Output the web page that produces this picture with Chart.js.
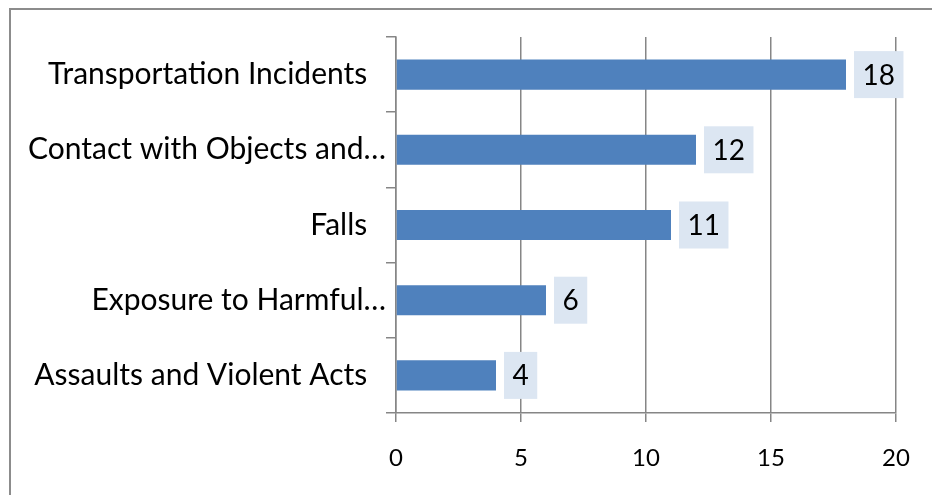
<!DOCTYPE html>
<html>
<head>
<meta charset="utf-8">
<script src="https://cdn.jsdelivr.net/npm/chart.js@4.4.1/dist/chart.umd.min.js"></script>
<style>
  html, body { margin: 0; padding: 0; background: #fff; }
  #wrap { position: relative; width: 932px; height: 495px; overflow: hidden; }
  #frame {
    position: absolute; left: 9px; top: 8px; width: 1000px; height: 600px;
    border-left: 2px solid #8c8c8c; border-top: 2px solid #8c8c8c;
  }
  canvas { position: absolute; left: 0; top: 0; }
</style>
</head>
<body>
<div id="wrap">
  <div id="frame"></div>
  <canvas id="chart" width="932" height="495"></canvas>
</div>
<script>
const categories = [
  "Transportation Incidents",
  "Contact with Objects and…",
  "Falls",
  "Exposure to Harmful…",
  "Assaults and Violent Acts",
];
const incidents = [18, 12, 11, 6, 4];
const xTicks = [0, 5, 10, 15, 20];

const FONT = "Lato";
const AXIS_GREY = "#868686";

// value boxes drawn next to each bar end
const valueBoxes = {
  id: "valueBoxes",
  afterDatasetsDraw(chart) {
    const ctx = chart.ctx;
    const meta = chart.getDatasetMeta(0);
    ctx.save();
    ctx.font = `28px ${FONT}`;
    ctx.textAlign = "center";
    ctx.textBaseline = "middle";
    meta.data.forEach((bar, i) => {
      const text = String(incidents[i]);
      const w = ctx.measureText(text).width + 17;
      const h = 47;
      const left = bar.x + 8;
      ctx.fillStyle = "#dce6f2";
      ctx.fillRect(left, bar.y - h / 2, w, h);
      ctx.fillStyle = "#000";
      ctx.fillText(text, left + w / 2, bar.y + 1);
    });
    ctx.restore();
  },
};

const ctx = document.getElementById("chart").getContext("2d");

new Chart(ctx, {
  type: "bar",
  data: {
    labels: categories,
    datasets: [
      {
        data: incidents,
        backgroundColor: "#4f81bd",
        borderWidth: 0,
        categoryPercentage: 0.8,
        barPercentage: 0.5,
      },
    ],
  },
  options: {
    indexAxis: "y",
    responsive: false,
    animation: false,
    devicePixelRatio: 1,
    layout: { padding: { top: 37, right: 36, left: 0, bottom: 0 } },
    plugins: {
      legend: { display: false },
      tooltip: { enabled: false },
    },
    scales: {
      x: {
        min: 0,
        max: 20,
        afterBuildTicks: (scale) => {
          scale.ticks = xTicks.map((v) => ({ value: v }));
        },
        afterFit: (scale) => {
          scale.height = 82;
        },
        grid: {
          color: AXIS_GREY,
          lineWidth: 1.5,
          tickLength: 9,
          drawTicks: true,
        },
        border: { color: AXIS_GREY, width: 1.5 },
        ticks: {
          color: "#000",
          font: { family: FONT, size: 24 },
          padding: 22,
        },
      },
      y: {
        afterFit: (scale) => {
          scale.width = 396;
        },
        grid: {
          drawOnChartArea: false,
          drawTicks: true,
          tickLength: 10,
          color: AXIS_GREY,
          lineWidth: 1.5,
          offset: true,
        },
        border: { color: AXIS_GREY, width: 1.5 },
        ticks: {
          color: "#000",
          font: { family: FONT, size: 30 },
          padding: 0,
          callback: function (value) {
            const label = this.getLabelForValue(value);
            return label.endsWith("…") ? label : label + "\u2002\u2009";
          },
        },
      },
    },
  },
  plugins: [valueBoxes],
});
</script>
</body>
</html>
